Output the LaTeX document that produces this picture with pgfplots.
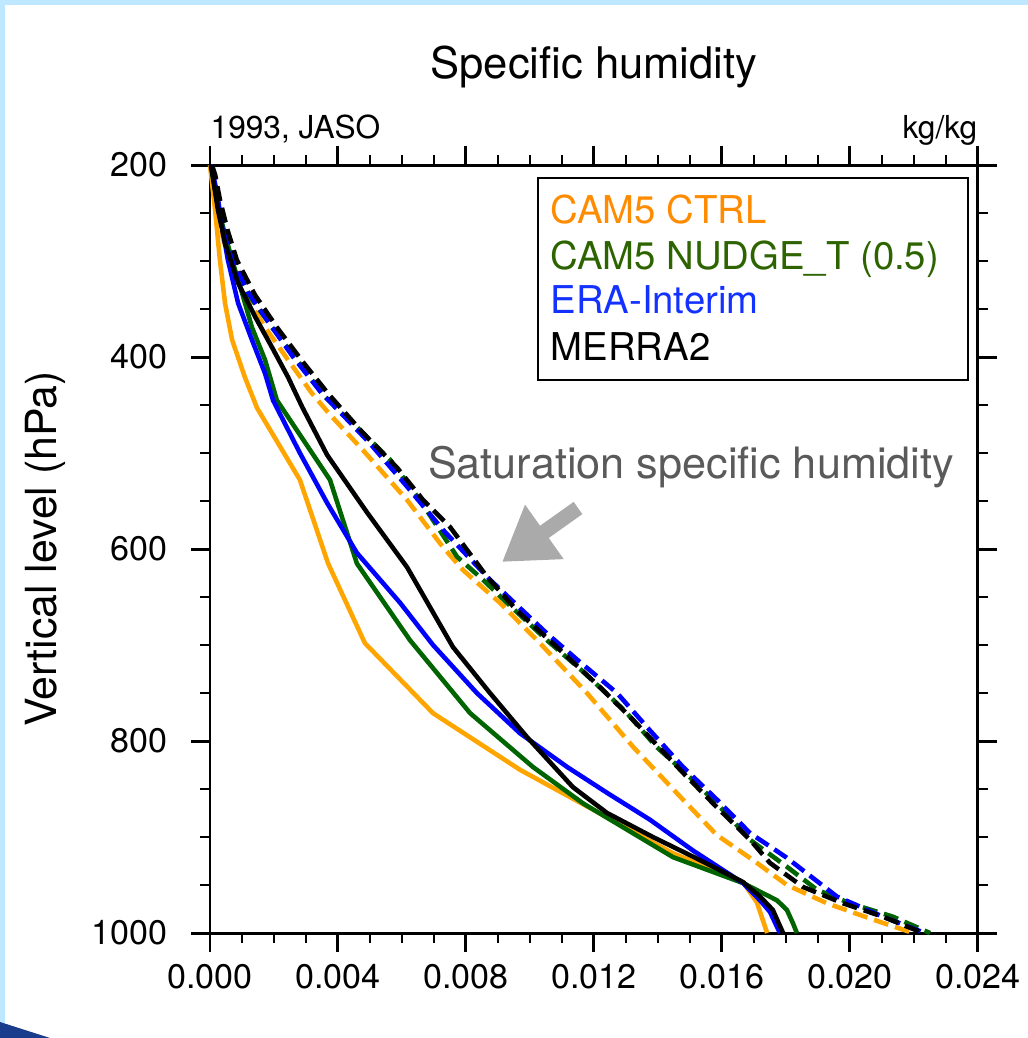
\documentclass[border=0pt]{standalone}
\usepackage{fontspec}
\setmainfont{TeX Gyre Heros}
\usepackage{pgfplots}
\pgfplotsset{compat=1.18}
\usetikzlibrary{arrows.meta}

\definecolor{ncorange}{RGB}{255,165,0}
\definecolor{ncgreen}{RGB}{0,100,0}
\definecolor{ncblue}{RGB}{0,0,255}
\definecolor{txtorange}{RGB}{255,140,0}
\definecolor{txtgreen}{RGB}{45,100,0}
\definecolor{txtblue}{RGB}{20,50,255}
\definecolor{frameblue}{RGB}{190,232,255}
\definecolor{swoosh}{RGB}{25,60,140}
\definecolor{annotgray}{RGB}{90,90,90}
\definecolor{arrowgray}{RGB}{170,170,170}

\tikzset{
  qline/.style={line width=1.3pt, line join=round},
  sat/.style={qline, dash pattern=on 1.5mm off 0.7mm},
}

\begin{document}
\begin{tikzpicture}
\useasboundingbox (-21mm,-10.5mm) rectangle (81.8mm,93.3mm);
% page decorations
\fill[frameblue] (-21mm,92.8mm) rectangle (81.8mm,93.3mm);
\fill[frameblue] (-21mm,-10.5mm) rectangle (-20.5mm,93.3mm);
\fill[swoosh] (-21mm,-8.9mm) -- (-16mm,-10.5mm) -- (-21mm,-10.5mm) -- cycle;

\begin{axis}[
  scale only axis,
  width=76.8mm, height=76.8mm,
  xmin=0, xmax=0.024, ymin=200, ymax=1000,
  y dir=reverse,
  xtick={0,0.004,0.008,0.012,0.016,0.02,0.024},
  ytick={200,400,600,800,1000},
  minor x tick num=3, minor y tick num=3,
  tick align=outside, tick pos=both,
  major tick length=1.9mm, minor tick length=1mm,
  axis line style={line width=0.85pt},
  major tick style={black, line width=0.85pt},
  minor tick style={black, line width=0.45pt},
  scaled x ticks=false,
  xticklabel style={/pgf/number format/fixed, /pgf/number format/fixed zerofill,
    /pgf/number format/precision=3, /pgf/number format/assume math mode=true},
  yticklabel style={xshift=-1.1mm, /pgf/number format/set thousands separator={},
    /pgf/number format/assume math mode=true},
  tick label style={font=\fontsize{9.7}{11}\selectfont},
  clip=false,
]
% CAM5 CTRL
\addplot[qline, ncorange] coordinates {
  (0,200)(0.00016,247)(0.00031,299)(0.00047,344)(0.00069,382)(0.00109,421)
  (0.00147,453)(0.00281,528)(0.00369,615)(0.00484,698)(0.00697,771)(0.00969,830)
  (0.01447,917)(0.01666,947)(0.01709,968)(0.01741,1000)
};
\addplot[sat, ncorange] coordinates {
  (0.00005,200)(0.00022,247)(0.00044,281)(0.00069,299)(0.00109,335)(0.00172,369)
  (0.00244,403)(0.00319,438)(0.00375,460)(0.00478,497)(0.00616,549)(0.00728,598)
  (0.00791,622)(0.00906,656)(0.01031,698)(0.01178,750)(0.01322,806)(0.01478,861)
  (0.01584,898)(0.01697,924)(0.01803,950)(0.01928,969)(0.02072,986)(0.02197,1000)
};
% CAM5 NUDGE_T (0.5)
\addplot[qline, ncgreen] coordinates {
  (0.00003,200)(0.00025,244)(0.00041,265)(0.00069,299)(0.001,333)(0.00131,369)
  (0.00172,403)(0.00209,445)(0.00375,528)(0.00459,615)(0.00625,695)(0.00813,771)
  (0.01009,827)(0.01166,865)(0.01447,921)(0.01666,948)(0.01772,966)(0.01803,976)
  (0.01822,990)(0.01834,1000)
};
\addplot[sat, ncgreen] coordinates {
  (0.00006,200)(0.00016,225)(0.00041,260)(0.00072,299)(0.0012,335)(0.00194,369)
  (0.00265,400)(0.0035,438)(0.004,455)(0.00459,473)(0.00563,507)(0.00656,549)
  (0.00772,608)(0.00853,632)(0.00928,656)(0.01053,695)(0.0116,726)(0.01295,768)
  (0.01395,806)(0.01485,833)(0.01584,865)(0.01688,903)(0.01803,931)(0.01897,955)
  (0.02,969)(0.02134,983)(0.0225,1000)
};
% ERA-Interim
\addplot[qline, ncblue] coordinates {
  (0.00003,200)(0.00022,229)(0.00038,265)(0.00056,299)(0.00088,344)(0.00131,382)
  (0.00172,417)(0.00197,445)(0.00281,500)(0.00366,552)(0.00459,604)(0.00594,656)
  (0.00697,700)(0.00834,750)(0.00969,792)(0.01116,827)(0.01241,854)(0.01375,882)
  (0.01509,914)(0.01666,948)(0.01719,966)(0.0175,978)(0.01781,1000)
};
\addplot[sat, ncblue] coordinates {
  (0.00006,200)(0.00016,216)(0.00045,262)(0.00072,299)(0.0012,333)(0.00194,369)
  (0.0026,400)(0.0035,438)(0.004,455)(0.005,490)(0.00616,535)(0.00728,580)
  (0.00875,632)(0.01053,688)(0.0115,716)(0.01272,750)(0.01375,789)(0.01478,827)
  (0.01584,861)(0.01688,896)(0.0180,921)(0.01959,962)(0.02103,983)(0.02234,1000)
};
% MERRA2
\addplot[qline, black] coordinates {
  (0.00003,200)(0.00025,247)(0.00047,281)(0.00088,323)(0.00141,358)(0.00194,390)
  (0.00244,421)(0.00288,452)(0.00366,502)(0.00491,562)(0.00616,619)(0.00759,702)
  (0.00875,750)(0.00991,796)(0.01134,848)(0.01241,875)(0.01384,900)(0.01531,924)
  (0.01666,947)(0.01719,962)(0.01759,976)(0.01791,1000)
};
\addplot[sat, black] coordinates {
  (0.00006,200)(0.00016,210)(0.00031,236)(0.00055,268)(0.00084,299)(0.0014,335)
  (0.00209,369)(0.0029,405)(0.00369,438)(0.00406,452)(0.00478,479)(0.00584,515)
  (0.00666,549)(0.0075,577)(0.00866,629)(0.00959,664)(0.01116,712)(0.01219,744)
  (0.01322,778)(0.01478,833)(0.01584,869)(0.01688,903)(0.0175,927)(0.01853,952)
  (0.01978,969)(0.02103,983)(0.02228,1000)
};
\end{axis}

% titles and annotations
\node[anchor=base, font=\fontsize{12.4}{14}\selectfont] at (38.4mm,85.5mm) {Specific humidity};
\node[anchor=base west, inner sep=0pt, font=\fontsize{9}{11}\selectfont] at (0mm,79.4mm) {1993, JASO};
\node[anchor=base east, inner sep=0pt, font=\fontsize{9}{11}\selectfont] at (76.8mm,79.4mm) {kg/kg};
\node[rotate=90, font=\fontsize{12.2}{14}\selectfont] at (-16.5mm,38.4mm) {Vertical level (hPa)};

% legend box
\draw[line width=0.85pt, fill=white] (32.8mm,55.3mm) rectangle (75.8mm,75.5mm);
\begin{scope}[every node/.style={anchor=base west, inner sep=0pt, font=\fontsize{10.9}{13}\selectfont}]
  \node[text=txtorange] at (34mm,71.0mm) {CAM5 CTRL};
  \node[text=txtgreen] at (34mm,66.4mm) {CAM5 NUDGE\_T (0.5)};
  \node[text=txtblue] at (34mm,61.9mm) {ERA-Interim};
  \node[text=black] at (34mm,57.3mm) {MERRA2};
\end{scope}

% saturation annotation
\node[anchor=base, text=annotgray, font=\fontsize{12.3}{14}\selectfont] at (48.1mm,45.4mm) {Saturation specific humidity};
\draw[arrowgray, line width=1.5mm, -{Triangle[length=5.2mm, width=6.3mm]}]
  (36.8mm,42.5mm) -- (29.2mm,37.1mm);
\end{tikzpicture}
\end{document}
